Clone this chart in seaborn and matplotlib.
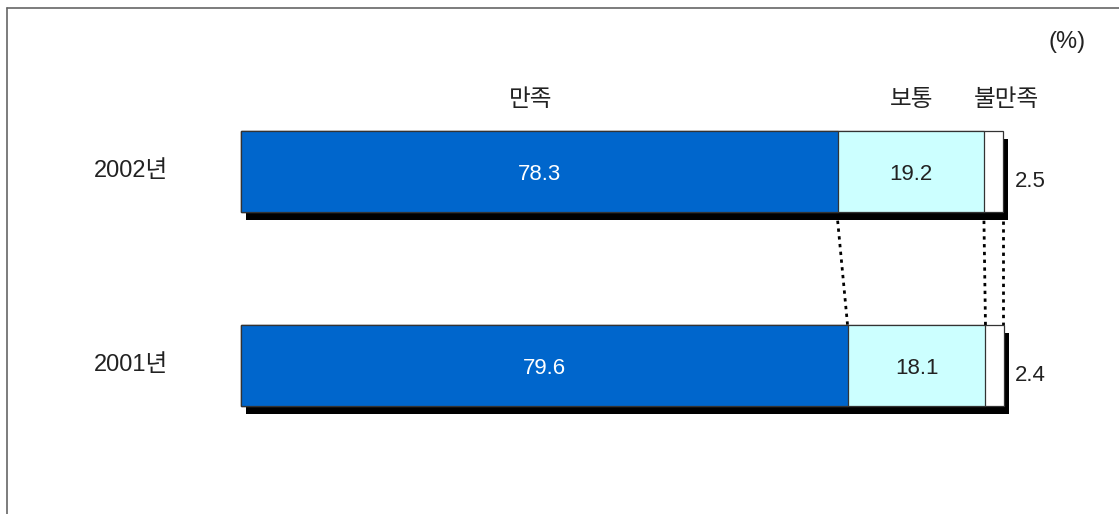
import matplotlib
matplotlib.use("Agg")
import matplotlib.pyplot as plt
import matplotlib.patheffects as pe
from matplotlib.lines import Line2D
import seaborn as sns
import pandas as pd

# ---- data ----
years = ["2002년", "2001년"]
satisfied = [78.3, 79.6]
normal = [19.2, 18.1]
dissatisfied = [2.5, 2.4]
categories = ["만족", "보통", "불만족"]
unit_label = "(%)"

sns.set_style("white")
plt.rcParams["font.family"] = ["Liberation Sans", "Noto Sans CJK KR", "DejaVu Sans"]

W, H = 1119, 514
fig = plt.figure(figsize=(W / 100, H / 100), dpi=100)
ax = fig.add_axes([0, 0, 1, 1])

df = pd.DataFrame({"year": years, "s": satisfied, "n": normal, "d": dissatisfied})
df["cum2"] = df["s"] + df["n"]
df["cum3"] = df["cum2"] + df["d"]

bw = 0.4175
edge = "#333333"
shadow = [pe.SimplePatchShadow(offset=(3.6, -5.8), shadow_rgbFace="black", alpha=1.0), pe.Normal()]

sns.barplot(data=df, x="cum3", y="year", orient="h", color="white", saturation=1,
            edgecolor=edge, linewidth=0.9, width=bw, ax=ax, path_effects=shadow, zorder=2)
sns.barplot(data=df, x="cum2", y="year", orient="h", color="#CCFFFF", saturation=1,
            edgecolor=edge, linewidth=0.9, width=bw, ax=ax, zorder=2)
sns.barplot(data=df, x="s", y="year", orient="h", color="#0066CC", saturation=1,
            edgecolor=edge, linewidth=0.9, width=bw, ax=ax, zorder=2)

# map: x 0 -> 241px, 100 -> 1003px ; y cat 0 -> 171.5px, cat 1 -> 365.5px
sx = 7.62
ax.set_xlim(-241 / sx, (W - 241) / sx)
sy = 194.0
ax.set_ylim((H - 171.5) / sy, -171.5 / sy)
ax.set_axis_off()

# dotted connectors
for b0, b1 in [(df["s"][0], df["s"][1]), (df["cum2"][0], df["cum2"][1]), (df["cum3"][0], min(df["cum3"][1], 100))]:
    ax.plot([b0, b1], [bw / 2 + 0.045, 1 - bw / 2], color="black", lw=2,
            linestyle=(0, (1.2, 1.6)), zorder=1)

fs = 17
vfs = 16
# values
for i in range(2):
    ax.text(df["s"][i] / 2, i + 0.015, f"{satisfied[i]:.1f}", color="white", ha="center", va="center", fontsize=vfs)
    ax.text(df["s"][i] + df["n"][i] / 2, i + 0.015, f"{normal[i]:.1f}", color="#222222", ha="center", va="center", fontsize=vfs)
    ax.text(101.5, i + 0.05, f"{dissatisfied[i]:.1f}", color="#222222", ha="left", va="center", fontsize=vfs)
    ax.text(-14.4, i - 0.005, years[i], color="#222222", ha="center", va="center", fontsize=fs)

def figtext(px, py, s, **kw):
    fig.text(px / W, 1 - py / H, s, ha="center", va="center", color="#222222", fontsize=fs, **kw)

figtext(531, 100, categories[0])
figtext(912, 100, categories[1])
figtext(1006, 100, categories[2])
figtext(1067, 42, unit_label)

# frame
fig.add_artist(Line2D([7 / W, 1], [1 - 8 / H, 1 - 8 / H], color="#666666", lw=1.2, transform=fig.transFigure))
fig.add_artist(Line2D([7 / W, 7 / W], [1 - 8 / H, 0], color="#666666", lw=1.2, transform=fig.transFigure))

fig.savefig("out.png", dpi=100)
